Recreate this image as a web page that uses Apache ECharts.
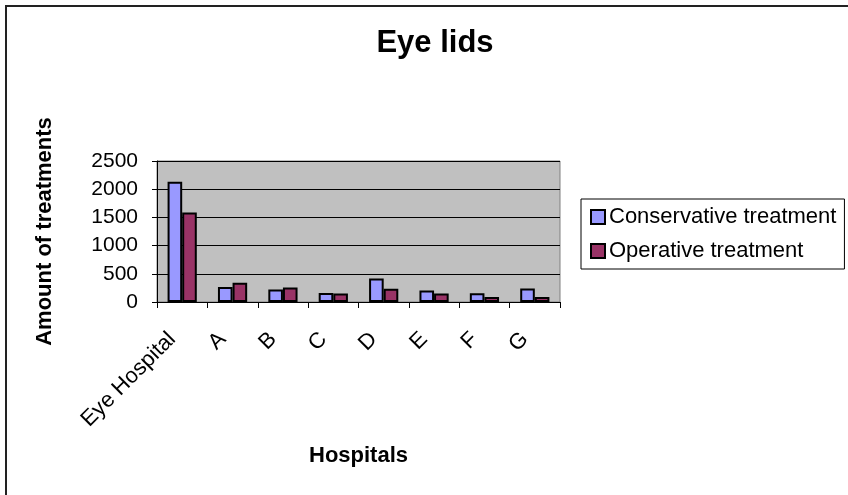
<!DOCTYPE html>
<html>
<head>
<meta charset="utf-8">
<script src="https://cdn.jsdelivr.net/npm/echarts@6/dist/echarts.min.js"></script>
<style>
  html, body { margin: 0; padding: 0; background: #ffffff; }
  #chart { width: 848px; height: 495px; }
</style>
</head>
<body>
<div id="chart"></div>
<script>
// Treatments for eye lid conditions, per hospital
const hospitals = ['Eye Hospital', 'A', 'B', 'C', 'D', 'E', 'F', 'G'];
const conservative = [2130, 265, 220, 160, 415, 205, 155, 240];
const operative = [1585, 340, 255, 150, 235, 150, 90, 90];
const yTicks = { min: 0, max: 2500, interval: 500 };

const FONT = '"Liberation Sans", Arial, Helvetica, sans-serif';

const chart = echarts.init(document.getElementById('chart'), null, { renderer: 'canvas' });

chart.setOption({
  animation: false,
  backgroundColor: '#ffffff',
  textStyle: { fontFamily: FONT, color: '#000000' },
  title: {
    text: 'Eye lids',
    left: 430,
    top: 23,
    textAlign: 'center',
    textStyle: { fontFamily: FONT, fontSize: 31, fontWeight: 'bold', color: '#000000' }
  },
  legend: {
    orient: 'vertical',
    left: 581,
    top: 199,
    padding: [7, 8, 7, 9],
    itemGap: 12,
    itemWidth: 14,
    itemHeight: 14,
    icon: 'rect',
    borderColor: '#000000',
    borderWidth: 1,
    backgroundColor: '#ffffff',
    textStyle: { fontFamily: FONT, fontSize: 22, color: '#000000', padding: [0, 0, 0, -1] },
    data: ['Conservative treatment', 'Operative treatment']
  },
  grid: {
    left: 157,
    right: 288,
    top: 161,
    bottom: 193,
    show: true,
    backgroundColor: '#c0c0c0',
    borderColor: '#808080',
    borderWidth: 1
  },
  xAxis: {
    type: 'category',
    data: hospitals,
    boundaryGap: true,
    name: 'Hospitals',
    nameLocation: 'middle',
    nameGap: 143,
    nameTextStyle: { fontFamily: FONT, fontSize: 22, fontWeight: 'bold', color: '#000000' },
    axisLine: { lineStyle: { color: '#000000', width: 1 } },
    axisTick: { show: true, alignWithLabel: false, length: 6, lineStyle: { color: '#000000' } },
    axisLabel: {
      rotate: 45, margin: 24, interval: 0,
      fontFamily: FONT, fontSize: 22, color: '#000000',
      padding: [0, 14, 0, 0]
    }
  },
  yAxis: {
    type: 'value',
    min: yTicks.min,
    max: yTicks.max,
    interval: yTicks.interval,
    name: 'Amount of treatments',
    nameLocation: 'middle',
    nameRotate: 90,
    nameGap: 101,
    nameTextStyle: { fontFamily: FONT, fontSize: 22, fontWeight: 'bold', color: '#000000' },
    axisLine: { show: true, lineStyle: { color: '#000000', width: 1 } },
    axisTick: { show: true, inside: false, length: 5, lineStyle: { color: '#000000' } },
    axisLabel: {
      margin: 19, fontFamily: FONT, fontSize: 21, color: '#000000',
      formatter: (v) => String(v)
    },
    splitLine: { show: true, lineStyle: { color: '#000000', width: 1 } }
  },
  series: [
    {
      name: 'Conservative treatment',
      type: 'bar',
      data: conservative,
      barGap: '0%',
      barCategoryGap: '42%',
      itemStyle: { color: '#9999ff', borderColor: '#000000', borderWidth: 2 }
    },
    {
      name: 'Operative treatment',
      type: 'bar',
      data: operative,
      barGap: '0%',
      barCategoryGap: '42%',
      itemStyle: { color: '#993366', borderColor: '#000000', borderWidth: 2 }
    }
  ],
  graphic: [
    {
      type: 'rect',
      shape: { x: 6, y: 6, width: 900, height: 600 },
      style: { fill: 'none', stroke: '#222222', lineWidth: 2 },
      silent: true,
      z: 100
    }
  ]
});
</script>
</body>
</html>
